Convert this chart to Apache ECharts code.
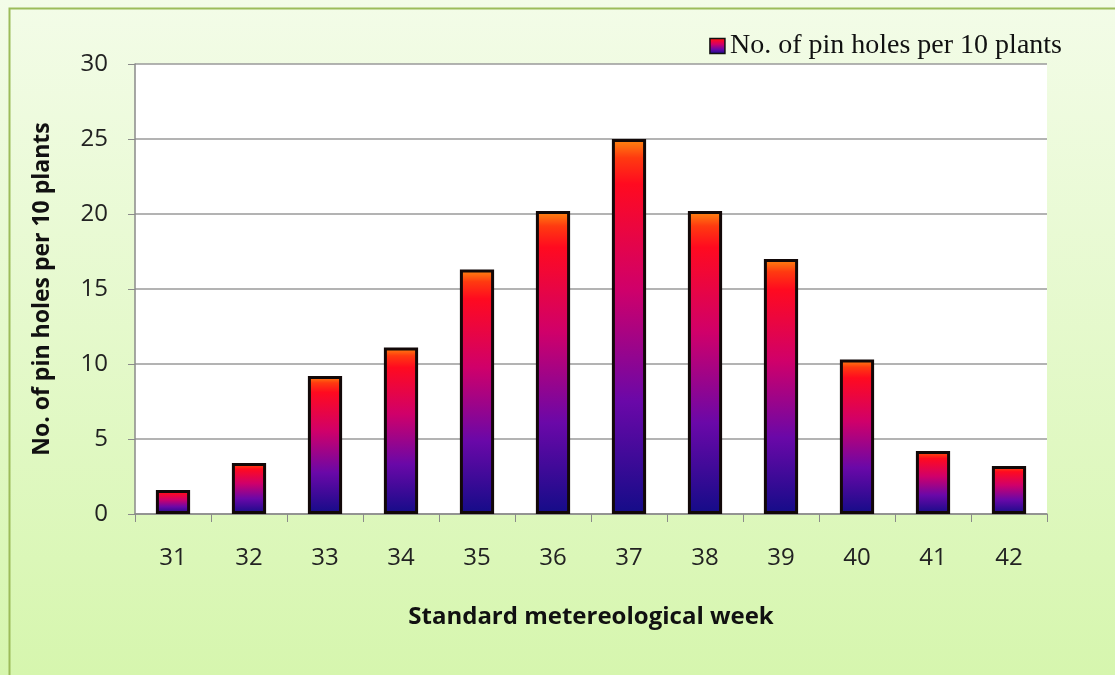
<!DOCTYPE html>
<html>
<head>
<meta charset="utf-8">
<script src="https://cdn.jsdelivr.net/npm/echarts@6/dist/echarts.min.js"></script>
<style>
  html, body { margin: 0; padding: 0; background: #fff; }
  #main { width: 1115px; height: 675px; }
</style>
</head>
<body>
<div id="main"></div>
<script>
// week numbers and pin hole counts
var weeks = ['31', '32', '33', '34', '35', '36', '37', '38', '39', '40', '41', '42'];
var pinHoles = [1.6, 3.4, 9.2, 11.1, 16.3, 20.2, 25.0, 20.2, 17.0, 10.3, 4.2, 3.2];
var seriesName = 'No. of pin holes per 10 plants';

var myChart = echarts.init(document.getElementById('main'));

// bar fill: orange cap, red, magenta, purple, navy at the foot
var barFill = new echarts.graphic.LinearGradient(0, 0, 0, 1, [
    {offset: 0, color: '#ff8a10'},
    {offset: 0.05, color: '#ff3a10'},
    {offset: 0.12, color: '#ff0a20'},
    {offset: 0.4, color: '#d0006a'},
    {offset: 0.7, color: '#6a08a8'},
    {offset: 1, color: '#140c88'}
]);

var option = {
    backgroundColor: new echarts.graphic.LinearGradient(0, 0, 0, 1, [
        {offset: 0, color: '#f3fce8'},
        {offset: 1, color: '#d6f6ae'}
    ]),
    graphic: [{
        type: 'rect',
        left: 7,
        top: 6,
        shape: {width: 1110, height: 675},
        style: {fill: 'none', stroke: '#9cbc5a', lineWidth: 2},
        silent: true
    }],
    legend: {
        top: 27,
        right: 48,
        itemWidth: 15,
        itemHeight: 15,
        itemGap: 4,
        icon: 'rect',
        textStyle: {
            fontFamily: 'Liberation Serif',
            fontSize: 28,
            color: '#111'
        },
        data: [{
            name: seriesName,
            itemStyle: {borderColor: '#111', borderWidth: 1.5}
        }]
    },
    grid: {
        left: 135,
        right: 68,
        top: 64,
        bottom: 161,
        show: true,
        backgroundColor: '#ffffff',
        borderWidth: 0
    },
    xAxis: {
        type: 'category',
        data: weeks,
        name: 'Standard metereological week',
        nameLocation: 'middle',
        nameGap: 91,
        nameTextStyle: {
            fontFamily: 'Open Sans',
            fontWeight: 'bold',
            fontSize: 24,
            color: '#111'
        },
        axisLine: {lineStyle: {color: '#8a8a8a', width: 1.5}},
        axisTick: {show: true, length: 8, alignWithLabel: false, lineStyle: {color: '#8a8a8a'}},
        axisLabel: {
            margin: 32,
            fontFamily: 'Open Sans',
            fontSize: 24,
            color: '#222'
        }
    },
    yAxis: {
        type: 'value',
        min: 0,
        max: 30,
        interval: 5,
        name: 'No. of pin holes per 10 plants',
        nameLocation: 'middle',
        nameGap: 81,
        nameTextStyle: {
            fontFamily: 'Open Sans',
            fontWeight: 'bold',
            fontSize: 23,
            color: '#111'
        },
        axisLine: {show: true, lineStyle: {color: '#8a8a8a', width: 1.5}},
        axisTick: {show: true, length: 7, lineStyle: {color: '#8a8a8a'}},
        axisLabel: {
            margin: 27,
            fontFamily: 'Open Sans',
            fontSize: 24,
            color: '#222'
        },
        splitLine: {lineStyle: {color: '#9a9a9a', width: 1.5}}
    },
    series: [{
        name: seriesName,
        type: 'bar',
        data: pinHoles,
        barWidth: '45%',
        itemStyle: {
            color: barFill,
            borderColor: '#120808',
            borderWidth: 3
        }
    }]
};

myChart.setOption(option);
window.addEventListener('resize', function () {
    myChart.resize();
});
</script>
</body>
</html>
